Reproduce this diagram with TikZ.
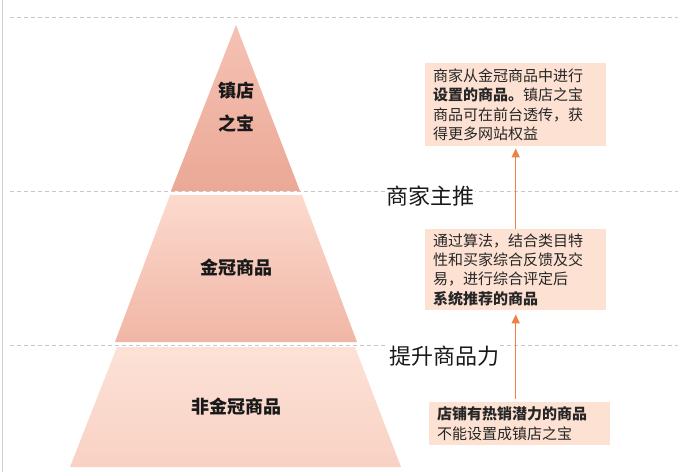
\documentclass[tikz,border=0pt]{standalone}
\usepackage{fontspec}
\setmainfont{Noto Sans CJK SC}
\usetikzlibrary{arrows.meta,positioning}
\definecolor{arrorange}{RGB}{238,128,70}
\definecolor{notefill}{RGB}{253,225,211}
\definecolor{tipTop}{RGB}{245,194,180}
\definecolor{tipBot}{RGB}{235,168,150}
\definecolor{midTop}{RGB}{252,218,206}
\definecolor{midBot}{RGB}{240,182,165}
\definecolor{baseTop}{RGB}{253,225,215}
\definecolor{baseBot}{RGB}{248,210,196}

\begin{document}
\begin{tikzpicture}[x=1pt,y=-1pt,
    tier/.style={font=\fontsize{18}{33}\selectfont\bfseries, align=center, text=black!90},
    note/.style={fill=notefill, anchor=north west, align=left, text width=165pt, inner xsep=8pt, inner ysep=0pt, font=\fontsize{15}{19.4}\selectfont, text=black!85},
    lvl/.style={font=\fontsize{22}{24}\selectfont, fill=white, inner sep=1pt, text=black!90},
    guide/.style={draw=black!22, dash pattern=on 4pt off 3pt, line width=0.8pt},
    arr/.style={-{Triangle[length=9pt,width=8pt]}, color=arrorange, line width=1.5pt}
]
\useasboundingbox (0,0) rectangle (678,472);
\draw[black!18, line width=0.8pt] (2,0) -- (2,472);

% guide lines
\draw[guide] (10,17) -- (678,17);
\draw[guide] (10,191) -- (678,191);
\draw[guide] (10,345) -- (678,345);

% pyramid
\shade[top color=tipTop, bottom color=tipBot] (236,25) -- (300,191) -- (171,191) -- cycle;
\shade[top color=midTop, bottom color=midBot] (170,195) -- (302,195) -- (357,342) -- (115,342) -- cycle;
\shade[top color=baseTop, bottom color=baseBot] (117,347) -- (355,347) -- (401,467) -- (70,467) -- cycle;

\node[tier] (treasure) at (236,107) {镇店\\之宝};
\node[tier] (crown) at (236,268) {金冠商品};
\node[tier] (noncrown) at (236,407) {非金冠商品};

% notes
\node[note, minimum height=83pt] (treasureNote) at (425,63) {商家从金冠商品中进行\\\textbf{设置的商品。}镇店之宝\\商品可在前台透传，获\\得更多网站权益};
\node[note, minimum height=81pt] (crownNote) at (425,229) {通过算法，结合类目特\\性和买家综合反馈及交\\易，进行综合评定后\\\textbf{系统推荐的商品}};
\node[note, minimum height=43pt] (hotNote) at (429,402) {\textbf{店铺有热销潜力的商品}\\不能设置成镇店之宝};

\node[lvl] (push) at (430,196) {商家主推};
\node[lvl] (boost) at (444,356) {提升商品力};

\draw[arr, shorten <=3pt, shorten >=4pt] (hotNote.north -| crownNote.south) -- (crownNote.south);
\draw[arr, shorten >=2pt] (crownNote.north) -- (treasureNote.south);
\end{tikzpicture}
\end{document}
